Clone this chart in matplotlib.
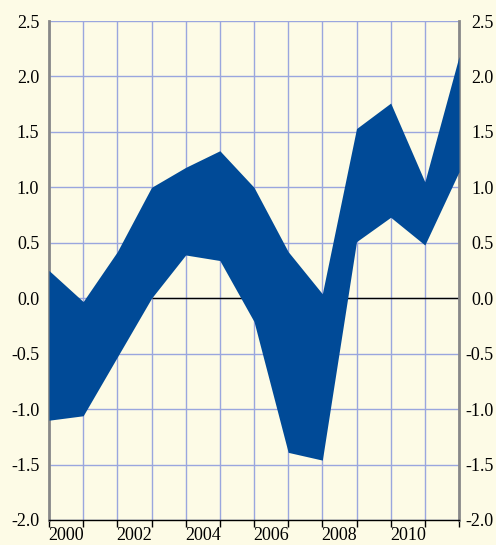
#======================================================================================
# load libraries
#======================================================================================
import numpy as np
import matplotlib.pyplot as plt

plt.rcParams['font.family'] = ['Liberation Serif', 'DejaVu Serif']

#======================================================================================
# data
#======================================================================================
periods = np.arange(13)
upper = [0.25, -0.03, 0.42, 1.00, 1.18, 1.33, 1.00, 0.42, 0.04, 1.53, 1.76, 1.05, 2.18]
lower = [-1.10, -1.06, -0.53, 0.00, 0.39, 0.34, -0.21, -1.39, -1.46, 0.51, 0.73, 0.48, 1.14]
year_labels = ['2000', '2002', '2004', '2006', '2008', '2010']
year_pos = [0.5, 2.5, 4.5, 6.5, 8.5, 10.5]
yticks = np.arange(-2.0, 2.51, 0.5)
ytick_labels = [f'{v:.1f}' for v in yticks]

bg = '#fdfbe6'
grid_col = '#9aa6de'
fill_col = '#004a97'
fs = 13

#======================================================================================
# plot
#======================================================================================
fig = plt.figure(figsize=(4.96, 5.45), dpi=100, facecolor=bg)
ax = fig.add_axes([49 / 496, 1 - 520 / 545, 410 / 496, 499 / 545], facecolor=bg)

ax.fill_between(periods, lower, upper, color=fill_col, linewidth=0, zorder=3)
ax.hlines(0, periods[3], periods[-1], color='black', linewidth=1, zorder=2)

ax.set_xlim(periods[0], periods[-1])
ax.set_ylim(-2.0, 2.5)

# gridlines + ticks
ax.set_xticks(periods)
ax.set_xticklabels([])
ax.set_xticks(year_pos, minor=True)
ax.set_xticklabels(year_labels, minor=True, fontsize=fs)
ax.set_yticks(yticks)
ax.set_yticklabels(ytick_labels, fontsize=fs)
ax.grid(True, which='major', color=grid_col, linewidth=1, zorder=1)
ax.set_axisbelow(True)

ax.tick_params(axis='x', which='major', direction='out', length=5, width=1, color='black')
ax.tick_params(axis='x', which='minor', length=0, pad=5)
ax.tick_params(axis='y', which='major', length=0, pad=7)

for side in ['left', 'right']:
    ax.spines[side].set_color('#888888')
    ax.spines[side].set_linewidth(2)
ax.spines['top'].set_visible(False)
ax.spines['bottom'].set_color('black')
ax.spines['bottom'].set_linewidth(1)

# right-hand labels, right aligned near the figure edge
ax2 = ax.twinx()
ax2.set_ylim(ax.get_ylim())
ax2.set_yticks(yticks)
ax2.set_yticklabels(ytick_labels, fontsize=fs, ha='right')
ax2.tick_params(axis='y', length=0, pad=25)
for s in ax2.spines.values():
    s.set_visible(False)

#----------------------------------------------------------
# save the figure
#----------------------------------------------------------
plt.savefig('out.png', dpi=100, facecolor=bg)
